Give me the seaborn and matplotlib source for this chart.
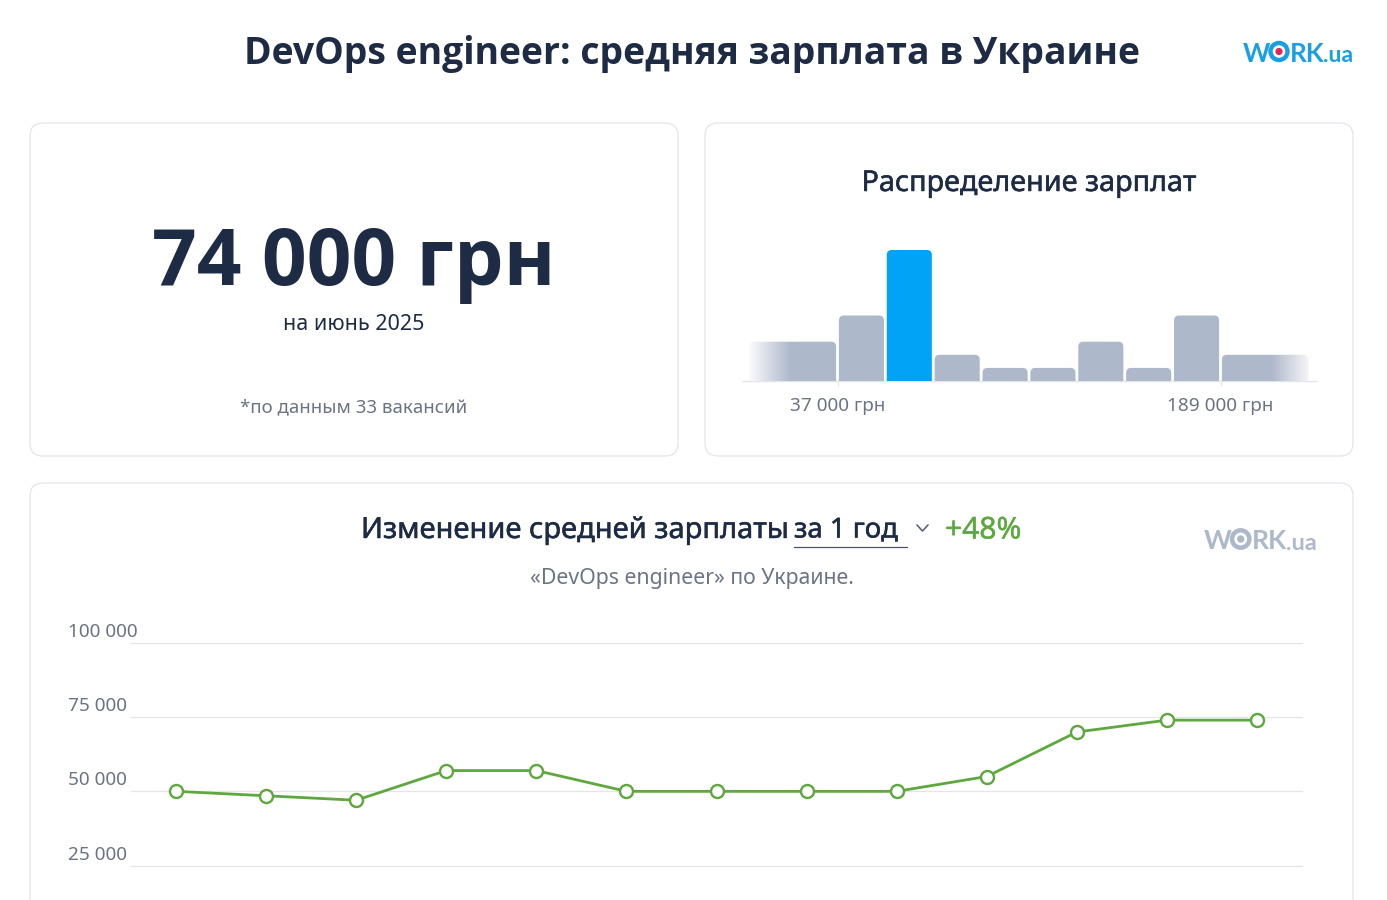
import numpy as np
import pandas as pd
import matplotlib
matplotlib.use("Agg")
import matplotlib.pyplot as plt
import matplotlib.patheffects as pe
from matplotlib.patches import FancyBboxPatch, Circle
from matplotlib.transforms import ScaledTranslation
import seaborn as sns

# ---- data ----
title = "DevOps engineer: средняя зарплата в Украине"
avg_label = "74 000 грн"
avg_salary = 74000
period_label = "на июнь 2025"
note_label = "*по данным 33 вакансий"
dist_title = "Распределение зарплат"
bin_edges = [1500, 37000, 56000, 75000, 94000, 113000, 132000, 151000, 170000, 189000, 224500]
bin_counts = [3, 5, 10, 2, 1, 1, 3, 1, 5, 2]
dist_ticks = [37000, 189000]
dist_tick_labels = ["37 000 грн", "189 000 грн"]
trend_title = "Изменение средней зарплаты"
trend_period = "за 1 год"
trend_change = "+48%"
trend_sub = "«DevOps engineer» по Украине."
months = ["июн", "июл", "авг", "сен", "окт", "ноя", "дек", "янв", "фев", "мар", "апр", "май", "июн "]
salaries = [50000, 48500, 47000, 57000, 57000, 50000, 50000, 50000, 50000, 55000, 70000, 74000, 74000]
y_ticks = [25000, 50000, 75000, 100000]
y_tick_labels = ["25 000", "50 000", "75 000", "100 000"]

# ---- style ----
W, H = 1387, 900
NAVY = "#1E2B45"
GREY = "#6B7485"
BORDER = "#E2E5E9"
GRID = "#E3E5E8"
GREEN = "#5FA83F"
BLUE = "#00A3F5"
BAR = "#AEB8CB"
LOGO = "#1A9FE3"
PT = 72 / 100  # pt per px

sns.set_theme(style="white")
plt.rcParams["font.family"] = ["Noto Sans", "DejaVu Sans"]

fig = plt.figure(figsize=(W / 100, H / 100), dpi=100, facecolor="white")


def px_axes(x0, y0, x1, y1, **kw):
    return fig.add_axes([x0 / W, 1 - y1 / H, (x1 - x0) / W, (y1 - y0) / H], **kw)


bg = fig.add_axes([0, 0, 1, 1], zorder=0)
bg.set_xlim(0, W)
bg.set_ylim(H, 0)
bg.axis("off")


def card(x0, y0, x1, y1):
    bg.add_patch(FancyBboxPatch((x0, y0), x1 - x0, y1 - y0,
                                boxstyle="round,pad=0,rounding_size=13",
                                fc="white", ec=BORDER, lw=0.9))


def txt(x, y, s, size_px, color=NAVY, weight="normal", ha="center", stroke=0, **kw):
    t = bg.text(x, y, s, fontsize=size_px * PT, color=color, fontweight=weight,
                ha=ha, va="center_baseline", **kw)
    if stroke:
        t.set_path_effects([pe.withStroke(linewidth=stroke * PT, foreground=color)])
    return t


card(30, 123, 678, 456)
card(705, 123, 1353, 456)
card(30, 483, 1353, 960)

BOLD = ["Open Sans", "DejaVu Sans"]
txt(692, 49.5, title, 37.4, weight="bold", family=BOLD)
txt(354, 255, avg_label, 78.4, weight="bold", family=BOLD)
txt(354, 322, period_label, 21.5)
txt(354, 405, note_label, 18.7, color=GREY)
txt(1029, 180, dist_title, 28.8, stroke=0.5)

txt(361, 527, trend_title, 29.1, stroke=0.5, ha="left")
txt(794, 527, trend_period, 27.5, stroke=0.5, ha="left")
bg.plot([794, 907], [546.5, 546.5], color="#46516A", lw=0.9)
bg.plot([917, 922.5, 928], [525, 531, 525], color="#5A6578", lw=1.2)
txt(945, 527, trend_change, 30, color=GREEN, stroke=0.4, ha="left")
txt(692, 576, trend_sub, 21.3, color=GREY)


def logo(x, y, s, small, color, dot):
    big = 26 * s
    lat = ["Lato", "DejaVu Sans"]
    txt(x, y, "W", big, color=color, weight="bold", ha="left", family=lat)
    cx = x + 36 * s
    bg.add_patch(Circle((cx, y), 8.5 * s, fc="white", ec=color, lw=4.4 * s * PT))
    bg.add_patch(Circle((cx, y), 3.6 * s, fc=dot, ec="none"))
    txt(x + 47 * s, y, "RK", big, color=color, weight="bold", ha="left", family=lat)
    txt(x + 80 * s, y + 2.5 * s, ".ua", small * s, color=color, weight="bold", ha="left", family=lat)


logo(1243, 51.5, 1.0, 23, LOGO, "#E5245E")
logo(1204, 539, 1.02, 23, BAR, BAR)

# ---- histogram ----
ax_h = px_axes(743, 240, 1316, 381, zorder=2)
ax_h.patch.set_alpha(0)
edges = np.array(bin_edges, dtype=float)
centers = (edges[:-1] + edges[1:]) / 2
sns.histplot(x=centers, weights=bin_counts, bins=bin_edges, ax=ax_h,
             color=BAR, alpha=1, edgecolor="none", linewidth=0)
x_per_px = 152000 / 383
y_per_px = 1 / 13.1
x_lo = 37000 - 94.5 * x_per_px
x_hi = 189000 + 95.5 * x_per_px
y_hi = 141 * y_per_px
gap = 1.4 * x_per_px
for p in list(ax_h.patches):
    x, w, h = p.get_x(), p.get_width(), p.get_height()
    is_hi = x <= avg_salary < x + w
    p.set_visible(False)
    box = FancyBboxPatch((x + gap, -1), w - 2 * gap, h + 1,
                         boxstyle=f"round,pad=0,rounding_size={5 * x_per_px}",
                         mutation_aspect=y_per_px / x_per_px,
                         fc=BLUE if is_hi else BAR, ec="none", zorder=3)
    ax_h.add_patch(box)
    box.set_clip_path(ax_h.patch)


def fade(x0, x1, left):
    a = np.linspace(0.97, 0.0, 64) if left else np.linspace(0.0, 0.97, 64)
    img = np.ones((1, 64, 4))
    img[0, :, 3] = a
    ax_h.imshow(img, extent=(x0, x1, 0, y_hi), aspect="auto", zorder=5, interpolation="bilinear")


fade(edges[0], 37000 - 47 * x_per_px, True)
fade(189000 + 50 * x_per_px, edges[-1] + 2 * x_per_px, False)
ax_h.set_xlim(x_lo, x_hi)
ax_h.set_ylim(0, y_hi)
ax_h.set_yticks([])
ax_h.set_ylabel("")
ax_h.set_xticks(dist_ticks)
ax_h.set_xticklabels(dist_tick_labels, fontsize=19 * PT, color=GREY)
ax_h.tick_params(axis="x", length=5 * PT, width=0.8, color=GRID, pad=11 * PT, bottom=True)
sns.despine(ax=ax_h, left=True)
ax_h.spines["bottom"].set_color(GRID)
ax_h.spines["bottom"].set_linewidth(1)

# ---- trend ----
ax_t = px_axes(131, 643, 1303, 899.5, zorder=2)
ax_t.patch.set_alpha(0)
df = pd.DataFrame({"i": np.arange(len(months)), "month": months, "salary": salaries})
sns.lineplot(data=df, x="i", y="salary", ax=ax_t, color=GREEN, lw=2.0,
             marker="o", markersize=13 * PT, markerfacecolor="white",
             markeredgecolor=GREEN, markeredgewidth=2.4 * PT, errorbar=None, zorder=4, clip_on=False)
ax_t.set_xlim(-0.5, 12.51)
per_25k = (866 - 643.5) / 3
ax_t.set_ylim(100000 - (899.5 - 643) / per_25k * 25000, 100000)
ax_t.set_yticks(y_ticks)
ax_t.set_yticklabels(y_tick_labels, fontsize=19 * PT, color=GREY, ha="left")
ax_t.tick_params(axis="y", length=0, pad=63 * PT)
ax_t.set_xticks([])
ax_t.set_xlabel("")
ax_t.set_ylabel("")
ax_t.grid(axis="y", color=GRID, lw=0.9)
ax_t.set_axisbelow(True)
sns.despine(ax=ax_t, left=True, bottom=True, top=True)
off = ScaledTranslation(0, 13 / 100, fig.dpi_scale_trans)
for lab in ax_t.get_yticklabels():
    lab.set_transform(lab.get_transform() + off)

fig.savefig("out.png", dpi=100, facecolor="white")
